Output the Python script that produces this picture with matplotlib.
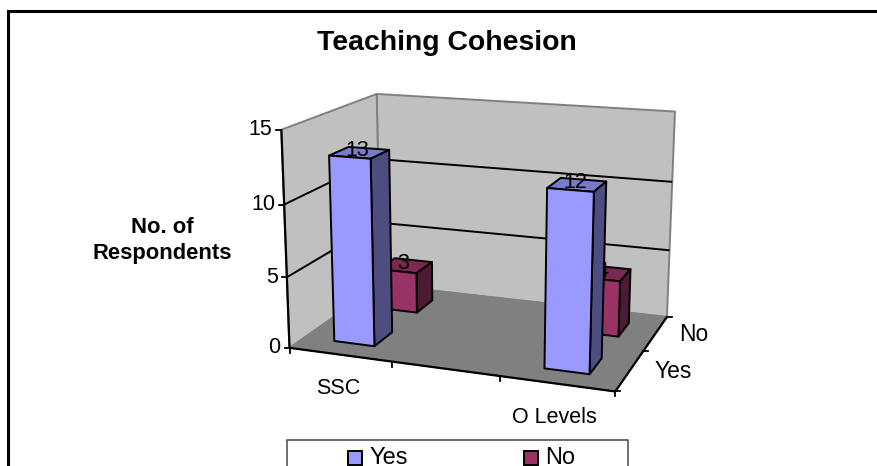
import numpy as np
import matplotlib
matplotlib.use("Agg")
import matplotlib.pyplot as plt
from matplotlib.patches import Polygon, Rectangle

plt.rcParams['font.family'] = ['Liberation Sans', 'DejaVu Sans']

title = "Teaching Cohesion"
ylabel = "No. of\nRespondents"
categories = ["SSC", "", "O Levels"]
series_names = ["Yes", "No"]
yes_values = [13, None, 12]
no_values = [3, None, 4]
z_ticks = [0, 5, 10, 15]
colors = {"Yes": ("#9999FF", "#4D4D80", "#7A7ACC"),
          "No": ("#993366", "#4D1A33", "#7A2952")}

W, H = 877, 466
fig = plt.figure(figsize=(W / 100, H / 100), dpi=100)
ax = fig.add_axes([0, 0, 1, 1])
ax.set_xlim(0, W)
ax.set_ylim(H, 0)
ax.axis("off")

# Camera calibration: box corners (category, series, value) to their place in the figure
box = [(0, 0, 0), (3, 0, 0), (3, 2, 0), (0, 2, 0), (0, 0, 15), (0, 2, 15), (3, 2, 15)]
img = [(291, 349), (614, 392), (668, 316), (379, 284), (281, 128), (377, 95), (675, 112)]
rows = []
for (x, y, z), (u, v) in zip(box, img):
    rows.append([x, y, z, 1, 0, 0, 0, 0, -u * x, -u * y, -u * z, -u])
    rows.append([0, 0, 0, 0, x, y, z, 1, -v * x, -v * y, -v * z, -v])
P = np.linalg.svd(np.array(rows, float))[2][-1].reshape(3, 4)


def proj(x, y, z):
    q = P @ np.array([x, y, z, 1.0])
    return q[0] / q[2], q[1] / q[2]


def face(pts, fc, ec="black", lw=1.4, z=2, **kw):
    ax.add_patch(Polygon([proj(*p) for p in pts], closed=True, fc=fc, ec=ec, lw=lw, zorder=z,
                         joinstyle="round", **kw))


def line(a, b, color="black", lw=1.4, z=1.5):
    pa, pb = proj(*a), proj(*b)
    ax.plot([pa[0], pb[0]], [pa[1], pb[1]], color=color, lw=lw, zorder=z, solid_capstyle="butt")


X, Y, Z = len(categories), len(series_names), z_ticks[-1]

# Frame
ax.plot([7.5, 7.5, W], [H, 10.5, 10.5], color="black", lw=2.2, zorder=0, solid_joinstyle="miter")

# Walls and floor
face([(0, 2, 0), (X, 2, 0), (X, 2, Z), (0, 2, Z)], "#C0C0C0", ec="#808080", lw=1.4, z=1)
face([(0, 0, 0), (0, 2, 0), (0, 2, Z), (0, 0, Z)], "#C0C0C0", ec="#808080", lw=1.4, z=1)
face([(0, 0, 0), (X, 0, 0), (X, 2, 0), (0, 2, 0)], "#808080", ec="#808080", lw=1.0, z=1.2)

# Gridlines
for t in z_ticks[1:-1]:
    line((0, 0, t), (0, 2, t))
    line((0, 2, t), (X, 2, t))

# Axes
line((0, 0, 0), (0, 0, Z), lw=1.6, z=1.6)
line((0, 0, 0), (X, 0, 0), lw=1.6, z=1.6)
line((X, 0, 0), (X, 2, 0), lw=1.6, z=1.6)

# Tick marks and labels
for t in z_ticks:
    px, py = proj(0, 0, t)
    ax.plot([px - 5, px], [py, py], color="black", lw=1.3, zorder=1.6)
    ax.text(px - 9, py, str(t), ha="right", va="center", fontsize=15.5, color="black")
for i in range(X + 1):
    px, py = proj(i, 0, 0)
    ax.plot([px, px], [py, py + 5], color="black", lw=1.3, zorder=1.6)
for i in range(Y + 1):
    px, py = proj(X, i, 0)
    ax.plot([px, px + 5], [py, py], color="black", lw=1.3, zorder=1.6)
for i, c in enumerate(categories):
    if c:
        px, py = proj(i + 0.5, 0, 0)
        ax.text(px - 2, py + 34, c, ha="center", va="center", fontsize=15.5, color="black")
for i, s in enumerate(series_names):
    px, py = proj(X, i + 0.5, 0)
    ax.text(px + 43 - 5 * i, py + 1, s, ha="center", va="center", fontsize=16.5, color="black")

# Bars, back row first
half = 0.2
for row, (name, vals) in reversed(list(enumerate(zip(series_names, [yes_values, no_values])))):
    front, side, top = colors[name]
    base_z = 3 + (1 - row) * 2
    for i, v in enumerate(vals):
        if v is None:
            continue
        x0, x1 = i + 0.5 - half, i + 0.5 + half
        y0, y1 = row + 0.5 - half, row + 0.5 + half
        face([(x0, y0, v), (x1, y0, v), (x1, y1, v), (x0, y1, v)], top, z=base_z)
        face([(x1, y0, 0), (x1, y1, 0), (x1, y1, v), (x1, y0, v)], side, z=base_z)
        face([(x0, y0, 0), (x1, y0, 0), (x1, y0, v), (x0, y0, v)], front, z=base_z)
        px, py = proj(i + 0.5, row + 0.5, v)
        ax.text(px - 2, py - 2, str(v), ha="center", va="center", fontsize=15.5, color="black",
                zorder=base_z + 0.5)

# Titles
ax.text(447, 43.5, title, ha="center", va="center", fontsize=20.4, fontweight="bold", color="black")
ax.text(162, 240.5, ylabel, ha="center", va="center", fontsize=15.8, fontweight="bold",
        color="black", linespacing=1.3)

# Legend, running off the bottom of the picture
ax.plot([286.5, 286.5, 628, 628], [H, 440, 440, H], color="#555555", lw=1.2, zorder=1)
for name, sx, tx in zip(series_names, [347.5, 524], [370, 545]):
    ax.add_patch(Rectangle((sx, 451), 14, 14, fc=colors[name][0], ec="black", lw=1.4))
    ax.text(tx, 464.5, name, ha="left", va="baseline", fontsize=17, color="black")

fig.savefig("out.png", dpi=100)
